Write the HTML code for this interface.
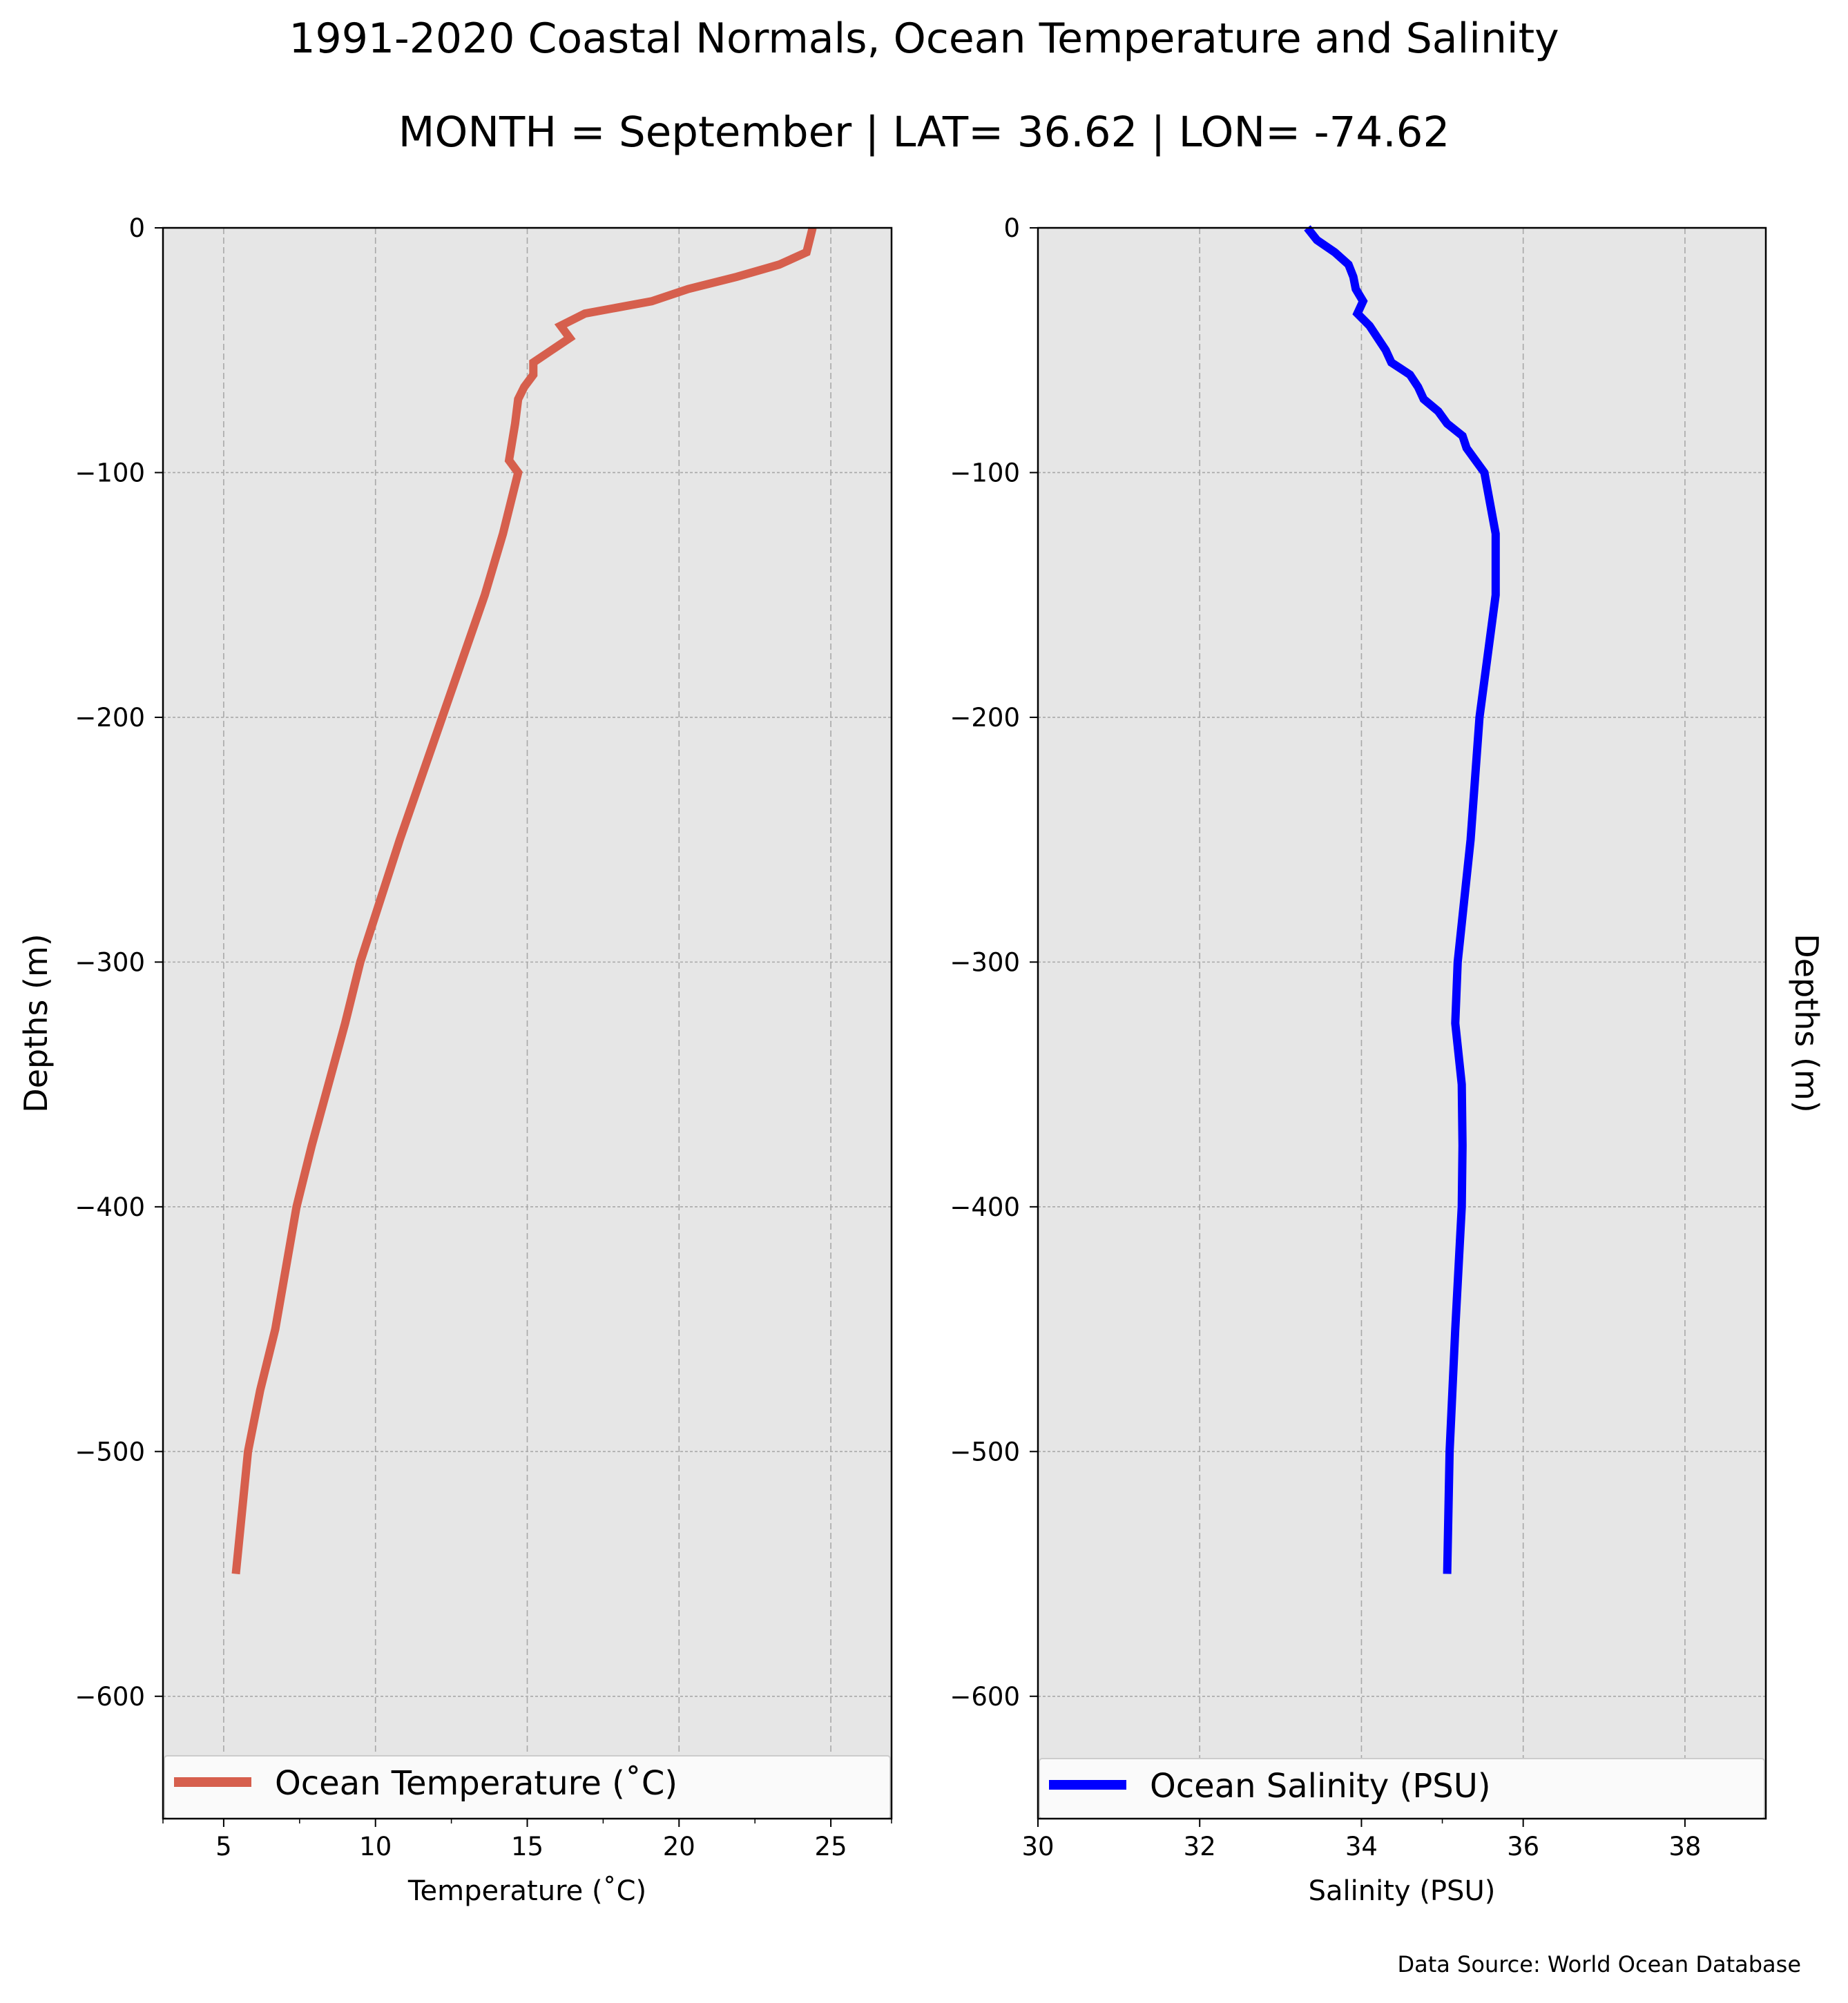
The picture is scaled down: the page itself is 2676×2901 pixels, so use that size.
<!DOCTYPE html>
<html><head><meta charset="utf-8"><style>
html,body{margin:0;padding:0;background:#fff;}
svg{display:block;font-family:"DejaVu Sans","Liberation Sans",sans-serif;}
</style></head><body>
<svg id="fig" width="2676" height="2901" viewBox="0 0 2676 2901" xmlns="http://www.w3.org/2000/svg">
<text x="1338" y="76" font-size="60" text-anchor="middle">1991-2020 Coastal Normals, Ocean Temperature and Salinity</text>
<text x="1338" y="212" font-size="61" text-anchor="middle">MONTH = September | LAT= 36.62 | LON= -74.62</text>
<text x="2608" y="2856" font-size="32" text-anchor="end">Data Source: World Ocean Database</text>
<g id="left"></g>
<g id="right"></g>
</svg>
<script>
const depths = [0,-10,-15,-20,-25,-30,-35,-40,-45,-50,-55,-60,-65,-70,-80,-95,-100,-125,-150,-200,-225,-250,-300,-325,-375,-400,-450,-475,-500,-550];
const temps = [24.4,24.2,23.3,21.9,20.3,19.1,16.9,16.1,16.4,15.8,15.2,15.2,14.9,14.7,14.6,14.4,14.7,14.2,13.6,12.2,11.5,10.8,9.5,9.0,7.9,7.4,6.7,6.2,5.8,5.4];
const salDepths = [0,-5,-10,-15,-20,-25,-30,-35,-40,-50,-55,-60,-65,-70,-75,-80,-85,-90,-100,-125,-150,-200,-250,-300,-325,-350,-375,-400,-450,-500,-550];
const salinity = [33.33,33.45,33.67,33.84,33.9,33.93,34.02,33.95,34.1,34.3,34.37,34.6,34.7,34.77,34.95,35.06,35.25,35.3,35.52,35.66,35.66,35.46,35.35,35.19,35.16,35.24,35.25,35.24,35.16,35.09,35.06];
const yTicks = [0,-100,-200,-300,-400,-500,-600];
const tempTicks = [5,10,15,20,25];
const tempMinor = [3,7.5,12.5,17.5,22.5,27];
const salTicks = [30,32,34,36,38];
const salMinor = [35];

const NS="http://www.w3.org/2000/svg";
function mk(parent,tag,attrs){const e=document.createElementNS(NS,tag);for(const k in attrs)e.setAttribute(k,attrs[k]);parent.appendChild(e);return e;}

function panel(g,cfg){
  const top=330,bot=2634,ymin=-650;
  const L=cfg.L,R=cfg.R;
  const xs=v=>L+(v-cfg.xmin)/(cfg.xmax-cfg.xmin)*(R-L);
  const ys=d=>top+(d/ymin)*(bot-top);
  const bg=mk(g,'rect',{x:L,y:top,width:R-L,height:bot-top,fill:'#e6e6e6'});
  
  
  cfg.ticks.forEach(t=>{
    const l=mk(g,'line',{x1:xs(t),x2:xs(t),y1:top,y2:bot,stroke:'#a8a8a8','stroke-width':1.6,'stroke-dasharray':'9,5'});
    
    
    const tk=mk(g,'line',{x1:xs(t),x2:xs(t),y1:bot,y2:bot+12,stroke:'#000','stroke-width':2});
    
    
    const tx=mk(g,'text',{x:xs(t),y:2687,'font-size':37,'text-anchor':'middle'});
    tx.textContent=t;
    
    
  });
  cfg.minor.forEach(t=>{
    const tk=mk(g,'line',{x1:xs(t),x2:xs(t),y1:bot,y2:bot+7,stroke:'#000','stroke-width':1.5});
    
    
  });
  yTicks.forEach(t=>{
    const l=mk(g,'line',{x1:L,x2:R,y1:ys(t),y2:ys(t),stroke:'#a8a8a8','stroke-width':1.6,'stroke-dasharray':'4,3'});
    
    
    const tk=mk(g,'line',{x1:L-12,x2:L,y1:ys(t),y2:ys(t),stroke:'#000','stroke-width':2});
    
    
    const tx=mk(g,'text',{x:L-26,y:ys(t)+13,'font-size':37,'text-anchor':'end'});
    tx.textContent=t===0?'0':'\u2212'+Math.abs(t);
    
    
  });
  const pts=cfg.vals.map((v,i)=>xs(v).toFixed(1)+','+ys(cfg.dep[i]).toFixed(1)).join(' ');
  const pl=mk(g,'polyline',{points:pts,fill:'none',stroke:cfg.color,'stroke-width':12,'stroke-linejoin':'miter'});
  
  
  const lg=mk(g,'g',{});
  
  
  mk(lg,'rect',{x:L+2,y:cfg.legTop,width:R-L-4,height:bot-cfg.legTop,fill:'#fafafa',stroke:'#cccccc','stroke-width':2,rx:4});
  mk(lg,'line',{x1:L+16,x2:L+128,y1:cfg.legTop+38,y2:cfg.legTop+38,stroke:cfg.color,'stroke-width':14});
  const lt=mk(lg,'text',{x:L+162,y:cfg.legTop+56,'font-size':48});
  lt.textContent=cfg.legText;
  
  
  const sp=mk(g,'rect',{x:L,y:top,width:R-L,height:bot-top,fill:'none',stroke:'#000','stroke-width':2.5});
  
  
  const xl=mk(g,'text',{x:(L+R)/2,y:2752,'font-size':40,'text-anchor':'middle'});
  xl.textContent=cfg.xlabel;
  
  
}
panel(document.getElementById('left'),{L:236,R:1291,xmin:3,xmax:27,ticks:tempTicks,minor:tempMinor,vals:temps,dep:depths,color:'#d65f4d',lineName:'temperature-line',legTop:2543,legText:'Ocean Temperature (\u02daC)',xlabel:'Temperature (\u02daC)'});
panel(document.getElementById('right'),{L:1503,R:2557,xmin:30,xmax:39,ticks:salTicks,minor:salMinor,vals:salinity,dep:salDepths,color:'#0000ff',lineName:'salinity-line',legTop:2547,legText:'Ocean Salinity (PSU)',xlabel:'Salinity (PSU)'});
const svg=document.getElementById('fig');
const yl=mk(svg,'text',{x:0,y:0,'font-size':46,'text-anchor':'middle',transform:'translate(68,1482) rotate(-90)'});
yl.textContent='Depths (m)';


const yr=mk(svg,'text',{x:0,y:0,'font-size':46,'text-anchor':'middle',transform:'translate(2600,1482) rotate(90)'});
yr.textContent='Depths (m)';


</script>
</body></html>
